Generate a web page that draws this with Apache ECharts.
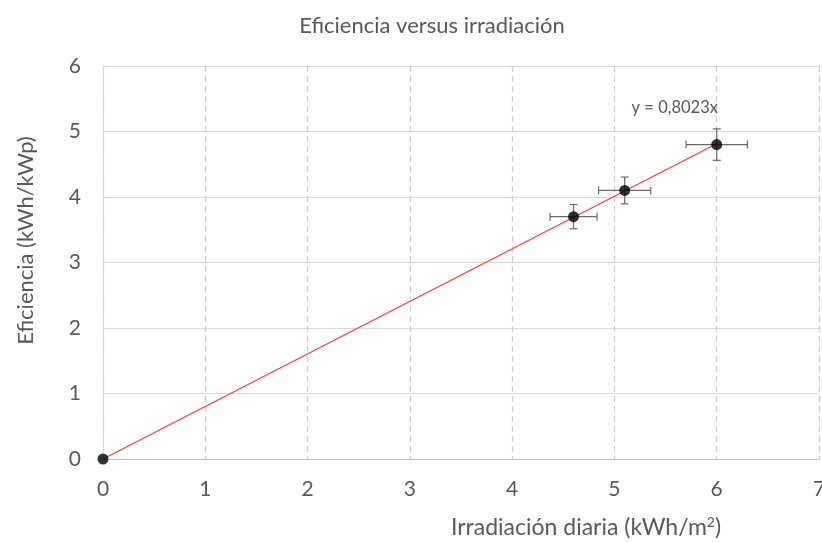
<!DOCTYPE html>
<html><head><meta charset="utf-8">
<script src="https://cdn.jsdelivr.net/npm/echarts@6/dist/echarts.min.js"></script>
<style>html,body{margin:0;padding:0;background:#fff}#c{width:822px;height:543px}</style>
</head><body><div id="c"></div>
<script>
var xValues = [0, 4.6, 5.1, 6.0];
var yValues = [0, 3.7, 4.1, 4.8];
var xErr = [0, 0.23, 0.255, 0.3];
var yErr = [0, 0.185, 0.205, 0.24];
var slope = 0.8023;
var trendLabel = 'y = 0,8023x';
var xTicks = [0,1,2,3,4,5,6,7];
var yTicks = [0,1,2,3,4,5,6];

var pts = xValues.map(function(x,i){return [x, yValues[i]];});
var errData = xValues.map(function(x,i){return [x, yValues[i], xErr[i], yErr[i]];}).filter(function(d){return d[2]>0;});
var trend = [[0,0],[6, slope*6]];
var FONT = 'Lato, "Open Sans", sans-serif';
var GRAY = '#595959';

var chart = echarts.init(document.getElementById('c'));
chart.setOption({
  animation: false,
  title: {text: 'Eficiencia versus irradiación', left: 427, textAlign: 'center', top: 10,
    textStyle: {fontFamily: FONT, fontSize: 22, fontWeight: 'normal', color: GRAY}},
  grid: {left: 103, right: 3, top: 66, bottom: 84, outerBoundsMode: 'none', containLabel: false},
  xAxis: {type: 'value', min: 0, max: 7, interval: 1,
    name: 'Irradiación diaria (kWh/m{sup|2})', nameLocation: 'middle', nameGap: 56,
    nameTextStyle: {fontFamily: FONT, fontSize: 23, color: GRAY, padding: [0,0,0,250],
      rich: {sup: {fontSize: 14, verticalAlign: 'top', color: GRAY, padding: [0,0,12,0]}}},
    axisLine: {show: true, lineStyle: {color: '#bfbfbf'}}, axisTick: {show: false},
    axisLabel: {fontFamily: FONT, fontSize: 21, color: GRAY, margin: 20},
    splitLine: {show: true, lineStyle: {color: '#cfcfcf', type: [6,4], width: 1.3}}},
  yAxis: {type: 'value', min: 0, max: 6, interval: 1,
    name: 'Eficiencia (kWh/kWp)', nameLocation: 'middle', nameGap: 66,
    nameTextStyle: {fontFamily: FONT, fontSize: 22, color: GRAY, padding: [0,0,0,44]},
    axisLine: {show: true, lineStyle: {color: '#d9d9d9'}}, axisTick: {show: false},
    axisLabel: {fontFamily: FONT, fontSize: 21, color: GRAY, margin: 22},
    splitLine: {show: true, lineStyle: {color: '#d9d9d9', width: 1}}},
  series: [
    {type: 'line', data: trend, symbol: 'none', lineStyle: {color: '#ff3b3b', width: 1.2}, z: 2,
      markPoint: {symbol: 'circle', symbolSize: 0, data: [{coord: [5.59, 5.36], value: trendLabel}],
        label: {show: true, formatter: trendLabel, fontFamily: FONT, fontSize: 16.5, color: GRAY, position: 'inside'}}},
    {type: 'custom', data: errData, z: 3,
      renderItem: function(params, api){
        var x = api.value(0), y = api.value(1), ex = api.value(2), ey = api.value(3);
        var c = api.coord([x,y]);
        var l = api.coord([x-ex,y]), r = api.coord([x+ex,y]);
        var t = api.coord([x,y+ey]), b = api.coord([x,y-ey]);
        var cap = 4;
        var st = {stroke: '#6b6b6b', lineWidth: 1.2};
        return {type: 'group', children: [
          {type:'line', shape:{x1:l[0],y1:c[1],x2:r[0],y2:c[1]}, style: st},
          {type:'line', shape:{x1:l[0],y1:c[1]-cap,x2:l[0],y2:c[1]+cap}, style: st},
          {type:'line', shape:{x1:r[0],y1:c[1]-cap,x2:r[0],y2:c[1]+cap}, style: st},
          {type:'line', shape:{x1:c[0],y1:t[1],x2:c[0],y2:b[1]}, style: st},
          {type:'line', shape:{x1:c[0]-cap,y1:t[1],x2:c[0]+cap,y2:t[1]}, style: st},
          {type:'line', shape:{x1:c[0]-cap,y1:b[1],x2:c[0]+cap,y2:b[1]}, style: st}
        ]};
      }},
    {type: 'scatter', data: pts, symbol: 'circle', symbolSize: 11, itemStyle: {color: '#000'}, z: 4}
  ]
});
</script></body></html>
